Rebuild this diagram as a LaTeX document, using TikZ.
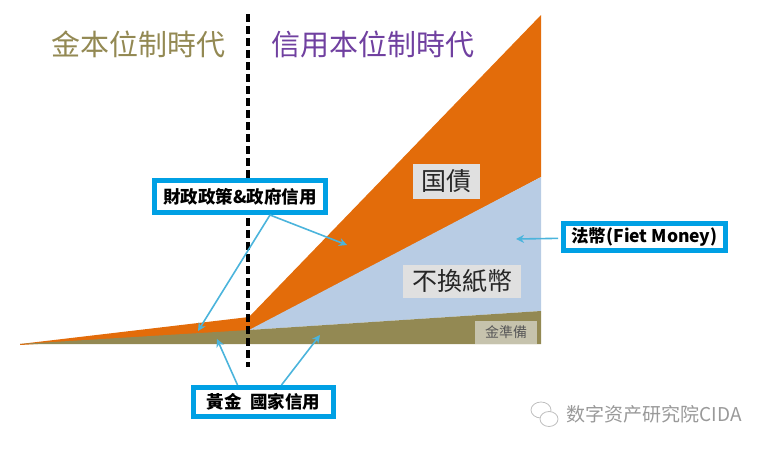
\documentclass[tikz,border=0pt]{standalone}
\usepackage{fontspec}
\setmainfont{Noto Sans CJK TC}
\newfontfamily\scfont{Noto Sans CJK SC}
\usetikzlibrary{arrows.meta}
\pgfdeclarelayer{edgelayer}
\pgfdeclarelayer{nodelayer}
\pgfsetlayers{edgelayer,nodelayer,main}
\definecolor{debtorange}{HTML}{E36C0A}
\definecolor{fiatblue}{HTML}{B8CCE4}
\definecolor{goldolive}{HTML}{938953}
\definecolor{calloutblue}{HTML}{00A0E4}
\definecolor{arrowblue}{HTML}{4BB4DC}
\definecolor{eraviolet}{HTML}{7040A0}
\tikzstyle{callout}=[draw=calloutblue,fill=white,line width=5pt,inner sep=0pt,font=\fontsize{17.5}{19}\selectfont\bfseries]
\tikzstyle{pointer}=[-{Stealth[length=8pt,width=8pt]},draw=arrowblue,line width=1.6pt]
\tikzstyle{tag}=[fill=black!12,inner sep=0pt,font=\fontsize{25}{28}\selectfont,text=black!85]
\tikzstyle{era}=[inner sep=0pt,font=\fontsize{29}{32}\selectfont]
\tikzstyle{brandmark}=[inner sep=0pt,text=black!40,font=\scfont\fontsize{19}{22}\selectfont]
\begin{document}
\begin{tikzpicture}[x=1pt,y=-1pt]
	\useasboundingbox (0,0) rectangle (767,448);
	\begin{pgfonlayer}{edgelayer}
		\fill [debtorange] (20,344) -- (249,317) -- (541,15) -- (541,177) -- (249,332) -- (20,345) -- cycle;
		\fill [fiatblue] (249,330) -- (541,177) -- (541,311) -- cycle;
		\fill [goldolive] (20,344) -- (249,330) -- (541,311) -- (541,344) -- cycle;
		\draw [black,line width=3.5pt,dash pattern=on 8pt off 4pt] (248,14) -- (248,367);
	\end{pgfonlayer}
	\begin{pgfonlayer}{nodelayer}
		\node [style=era,text=goldolive] (goldera) at (138,44) {金本位制時代};
		\node [style=era,text=eraviolet] (creditera) at (373,44) {信用本位制時代};
		\node [style=tag,minimum width=67pt,minimum height=35pt] (debt) at (446.5,181) {国債};
		\node [style=tag,minimum width=118pt,minimum height=33pt] (fiat) at (462,281) {不換紙幣};
		\node [fill=black!12!goldolive!45,inner sep=0pt,minimum width=62pt,minimum height=23pt,text=black!65,font=\fontsize{14}{16}\selectfont] (reserve) at (506,332) {金準備};
		\node [style=callout,minimum width=171pt,minimum height=32pt] (policy) at (240,196.5) {財政政策\&政府信用};
		\node [style=callout,minimum width=162pt,minimum height=27pt] (money) at (644.5,237) {法幣(Fiet Money)};
		\node [style=callout,minimum width=140pt,minimum height=29pt] (gold) at (263.5,402) {黃金\hspace{9pt}國家信用};
		\node [style=brandmark] (brand) at (654,414) {数字资产研究院CIDA};
	\end{pgfonlayer}
	\coordinate (policyfoot) at ([xshift=30pt]policy.south);
	\coordinate (goldfootl) at ([xshift=-26pt]gold.north);
	\coordinate (goldfootr) at ([xshift=18pt]gold.north);
	\coordinate (earlydebt) at (198,331);
	\coordinate (latedebt) at (347,245);
	\coordinate (fiatarea) at (516,239);
	\coordinate (earlygold) at (217,339);
	\coordinate (lategold) at (320,335);
	\draw [style=pointer] (policyfoot) to (earlydebt);
	\draw [style=pointer] (policyfoot) to (latedebt);
	\draw [style=pointer,shorten <=3pt] (money) to (fiatarea);
	\draw [style=pointer] (goldfootl) to (earlygold);
	\draw [style=pointer] (goldfootr) to (lategold);
	% wechat glyph
	\draw [black!25,fill=white,line width=.8pt] (541,410) ellipse (10pt and 8pt);
	\draw [black!25,fill=white,line width=.8pt] (549,419) ellipse (9pt and 7.5pt);
\end{tikzpicture}
\end{document}
